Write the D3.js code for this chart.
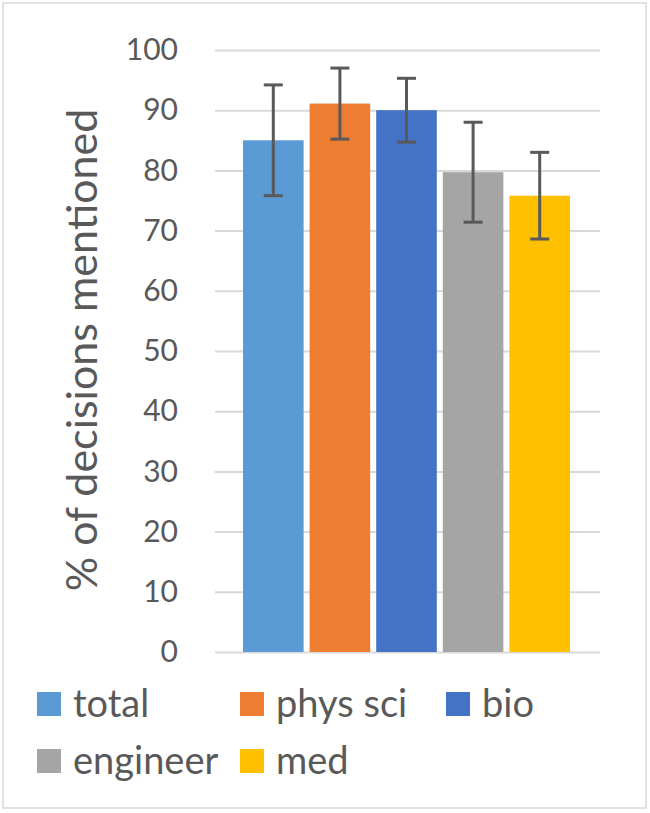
<!DOCTYPE html>
<html><head><meta charset="utf-8">
<script src="https://cdn.jsdelivr.net/npm/d3@7"></script>
<style>body{margin:0;background:#fff}svg{display:block}</style>
</head><body>
<svg id="c" width="650" height="813"></svg>
<script>
const series = ["total","phys sci","bio","engineer","med"];
const values = [85, 91.1, 90, 79.7, 75.8];
const errors = [9.2, 5.9, 5.3, 8.3, 7.2];
const colors = ["#5B9BD5","#ED7D31","#4472C4","#A5A5A5","#FFC000"];
const yTicks = [0,10,20,30,40,50,60,70,80,90,100];
const yTitle = "% of decisions mentioned";

(function(){
const svg = d3.select("#c");
const font = "Lato, 'Open Sans', sans-serif";
const txt = "#595959";

svg.append("rect").attr("x",3).attr("y",3).attr("width",643).attr("height",805)
  .attr("fill","#fff").attr("stroke","#D9D9D9").attr("stroke-width",1.5);

const pl = 215, pr = 600, pt = 50, pb = 652;
const y = d3.scaleLinear().domain([0,100]).range([pb, pt]);
const x = d3.scaleBand().domain(series).range([243, 570]).paddingInner(0.09);

const yAxis = d3.axisLeft(y).tickValues(yTicks).tickSize(-(pr-pl)).tickPadding(37);
const g = svg.append("g").attr("transform",`translate(${pl},0)`).call(yAxis);
g.select(".domain").remove();
g.selectAll(".tick line").attr("stroke","#D9D9D9").attr("stroke-width",2);
g.selectAll(".tick text").attr("fill",txt).attr("font-size",30).attr("font-family",font);

svg.append("g").selectAll("rect").data(series).join("rect")
  .attr("x",d=>x(d)).attr("width",x.bandwidth())
  .attr("y",(d,i)=>y(values[i])).attr("height",(d,i)=>y(0)-y(values[i]))
  .attr("fill",(d,i)=>colors[i]);

const eb = svg.append("g").attr("stroke","#595959").attr("stroke-width",3);
series.forEach((s,i)=>{
  const cx = x(s)+x.bandwidth()/2;
  const y1 = y(values[i]+errors[i]), y2 = y(values[i]-errors[i]);
  eb.append("line").attr("x1",cx).attr("x2",cx).attr("y1",y1).attr("y2",y2);
  eb.append("line").attr("x1",cx-9.5).attr("x2",cx+9.5).attr("y1",y1).attr("y2",y1);
  eb.append("line").attr("x1",cx-9.5).attr("x2",cx+9.5).attr("y1",y2).attr("y2",y2);
});

svg.append("text").attr("transform",`translate(97,350) rotate(-90)`)
  .attr("text-anchor","middle").attr("fill",txt).attr("font-size",43).attr("font-family",font)
  .text(yTitle);

const legPos = [[37,704],[240,704],[446,704],[37,761],[240,761]];
const lg = svg.append("g");
series.forEach((s,i)=>{
  const [lx,ly] = legPos[i];
  lg.append("rect").attr("x",lx).attr("y",ly-12).attr("width",24).attr("height",24).attr("fill",colors[i]);
  lg.append("text").attr("x",lx+36).attr("y",ly).attr("dy","0.35em").attr("fill",txt)
    .attr("font-size",38).attr("font-family",font).text(s);
});
})();
</script>
</body></html>
